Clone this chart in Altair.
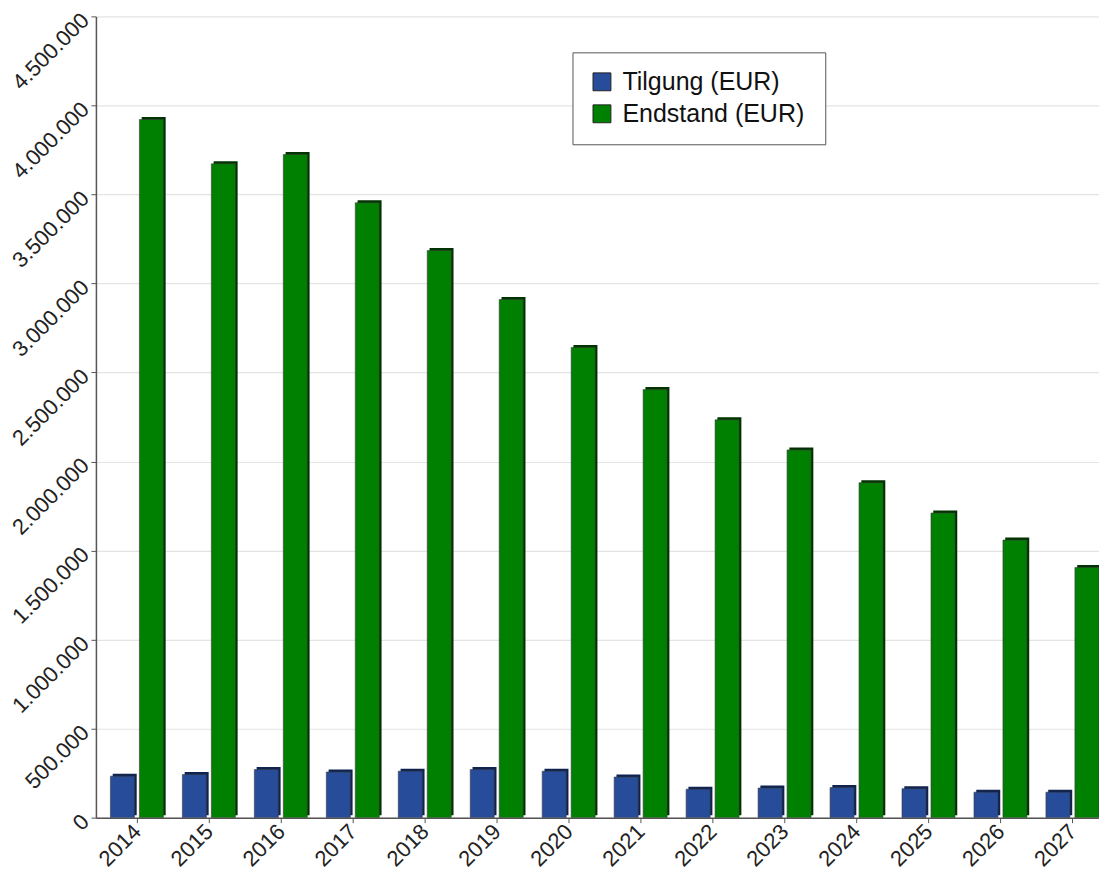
import altair as alt
import pandas as pd

years = list(range(2014, 2028))
tilgung = [233000, 242000, 270000, 256000, 261000, 270000, 261000, 228000,
           160000, 166000, 169000, 163000, 143000, 143000]
endstand = [3921000, 3672000, 3724000, 3453000, 3185000, 2910000, 2641000, 2404000,
            2234000, 2065000, 1881000, 1711000, 1559000, 1405000]
series_names = ["Tilgung (EUR)", "Endstand (EUR)"]
series_colors = ["#274C99", "#008000"]
series_dark = ["#0F2350", "#003300"]
y_ticks = [0, 500000, 1000000, 1500000, 2000000, 2500000, 3000000, 3500000, 4000000, 4500000]

df = pd.DataFrame({
    "Jahr": years + years,
    "Reihe": [series_names[0]] * len(years) + [series_names[1]] * len(years),
    "Wert": tilgung + endstand,
})

FONT = "Liberation Sans"
label_expr = "replace(format(datum.value, ','), /,/g, '.')"

x_enc = alt.X("Jahr:Q",
              scale=alt.Scale(domain=[2013.5, 2027.3], nice=False, zero=False),
              axis=alt.Axis(values=years, format="d", title=None, grid=False,
                            labelAngle=-45, labelAlign="right", labelBaseline="middle",
                            labelFontSize=22, labelFont=FONT, labelColor="#222222",
                            domainColor="#555555", tickColor="#555555", tickSize=5,
                            labelPadding=5))
y_enc = alt.Y("Wert:Q",
              scale=alt.Scale(domain=[0, 4500000], nice=False),
              axis=alt.Axis(values=y_ticks, labelExpr=label_expr, title=None,
                            labelAngle=-45, labelAlign="right", labelBaseline="middle",
                            labelFontSize=22, labelFont=FONT, labelColor="#222222",
                            gridColor="#e4e4e4", gridWidth=1.2,
                            domainColor="#555555", tickColor="#555555", tickSize=5,
                            labelPadding=6))

color_enc = alt.Color("Reihe:N",
                      scale=alt.Scale(domain=series_names, range=series_colors),
                      legend=alt.Legend(title="\u00a0", titleOrient="right", titleFontSize=4,
                                        titlePadding=4,
                                        orient="none", legendX=477, legendY=36,
                                        labelFontSize=25, labelFont=FONT, labelColor="#111111",
                                        labelLimit=400,
                                        symbolType="square", symbolSize=320,
                                        symbolStrokeColor="#222222", symbolStrokeWidth=1,
                                        symbolOpacity=1,
                                        rowPadding=6, padding=17,
                                        strokeColor="#555555", fillColor="white",
                                        labelOffset=8, cornerRadius=0))

BAR_W = 24
layers = []
for i, name in enumerate(series_names):
    sign = -1 if i == 0 else 1
    sub = alt.Chart(df).transform_filter(alt.datum.Reihe == name)
    back = sub.mark_bar(width=BAR_W, xOffset=sign * 14.5 + 2.3, yOffset=-2.5,
                        color=series_dark[i], clip=True).encode(x=x_enc, y=y_enc)
    front = sub.mark_bar(width=BAR_W, xOffset=sign * 14.5, clip=True,
                         stroke="#3a3a3a", strokeWidth=0.6).encode(
        x=x_enc, y=y_enc, color=color_enc)
    layers += [back, front]

chart = alt.layer(*layers).properties(
    width=1004, height=802,
    padding={"top": 0, "left": 0, "right": 0, "bottom": 0},
).configure_view(stroke=None).configure_axis(domainWidth=1.5)

chart.save("out.html", embed_options={"renderer": "svg", "actions": False})
